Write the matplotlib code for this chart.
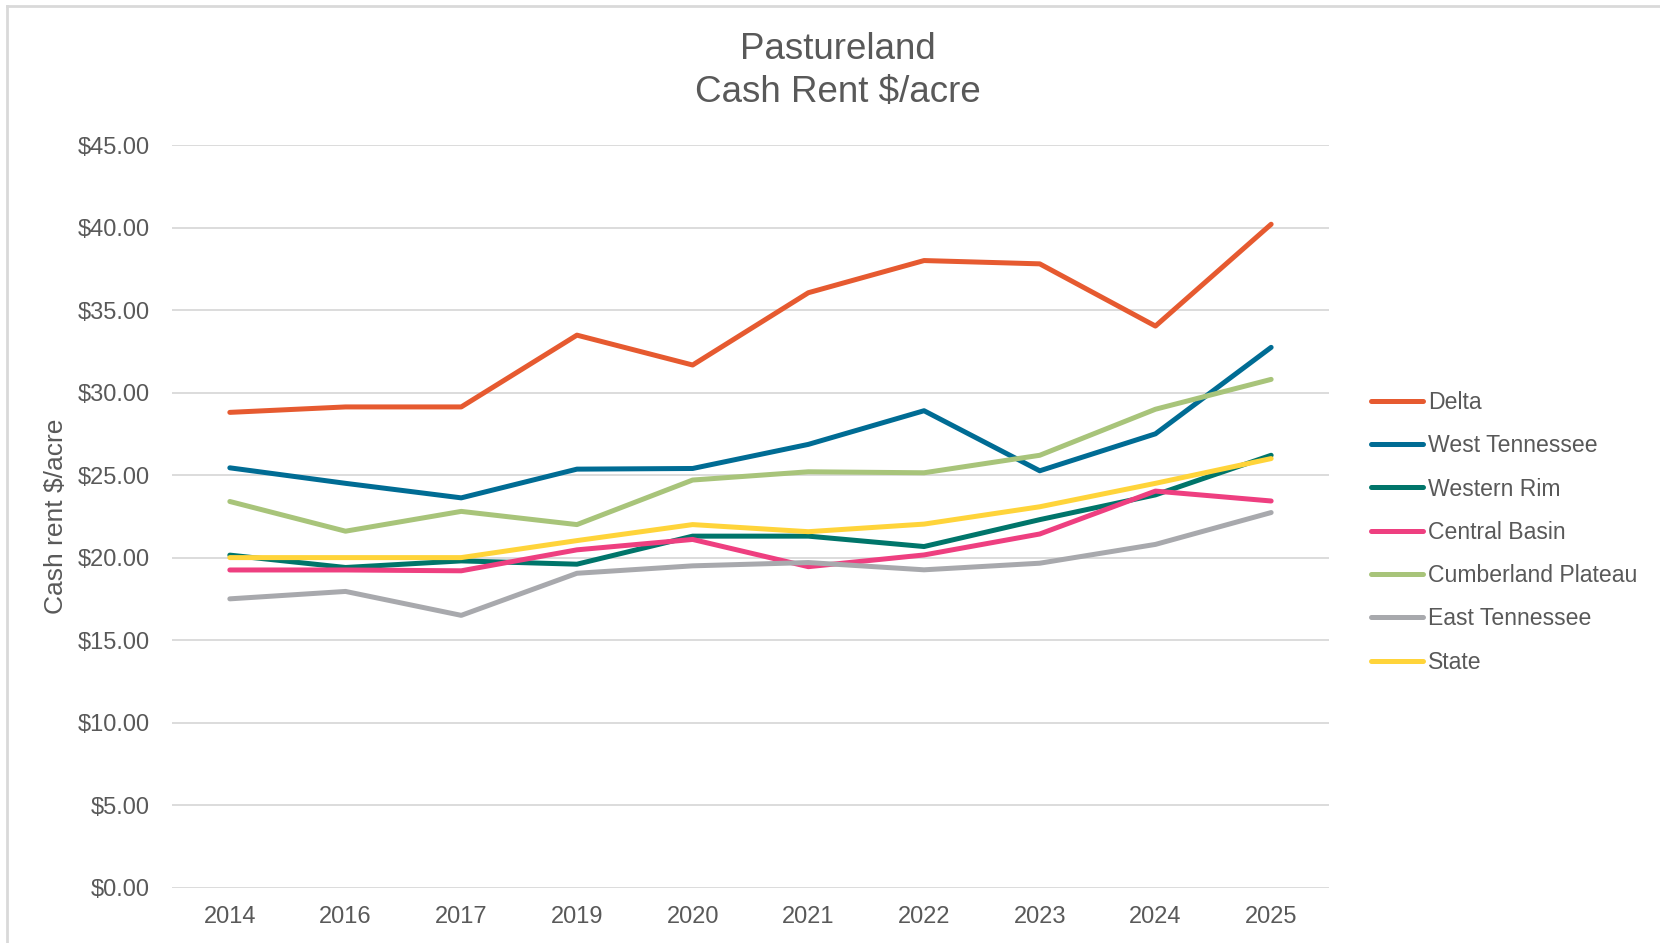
import matplotlib
matplotlib.use("Agg")
import matplotlib.pyplot as plt
from matplotlib.lines import Line2D
from matplotlib.ticker import FuncFormatter

plt.rcParams['font.family'] = ['Liberation Sans', 'DejaVu Sans']

# data
years = ["2014", "2016", "2017", "2019", "2020", "2021", "2022", "2023", "2024", "2025"]

delta = [28.80, 29.13, 29.13, 33.48, 31.67, 36.05, 38.00, 37.80, 34.03, 40.20]
west_tn = [25.44, 24.50, 23.62, 25.36, 25.40, 26.86, 28.90, 25.26, 27.50, 32.74]
western_rim = [20.15, 19.40, 19.80, 19.60, 21.30, 21.30, 20.67, 22.30, 23.80, 26.20]
central_basin = [19.25, 19.25, 19.20, 20.47, 21.10, 19.45, 20.16, 21.43, 24.03, 23.43]
cumberland = [23.40, 21.60, 22.80, 22.00, 24.70, 25.20, 25.14, 26.20, 28.99, 30.80]
east_tn = [17.50, 17.95, 16.50, 19.05, 19.50, 19.70, 19.26, 19.66, 20.80, 22.73]
state = [20.00, 20.00, 20.00, 21.03, 22.00, 21.57, 22.03, 23.08, 24.50, 26.00]

series = [
    ("Delta", delta, "#E65A30"),
    ("West Tennessee", west_tn, "#006C94"),
    ("Western Rim", western_rim, "#00756A"),
    ("Central Basin", central_basin, "#EE3F80"),
    ("Cumberland Plateau", cumberland, "#A8C47A"),
    ("East Tennessee", east_tn, "#A8A9AD"),
    ("State", state, "#FFD43A"),
]

txt = "#595959"
lw = 3.6

fig = plt.figure(figsize=(16.6, 9.43), dpi=100)
ax = fig.add_axes([0.1036, 0.0587, 0.6970, 0.7875])

x = list(range(len(years)))
for name, vals, col in series:
    ax.plot(x, vals, color=col, lw=lw, solid_capstyle='round', label=name)

ax.set_xlim(-0.5, len(years) - 0.5)
ax.set_ylim(0, 45)
ax.set_yticks(range(0, 46, 5))
ax.yaxis.set_major_formatter(FuncFormatter(lambda v, p: f"${v:.2f}"))
ax.set_xticks(x)
ax.set_xticklabels(years)
ax.grid(axis='y', color='#D9D9D9', lw=1.3)
ax.set_axisbelow(True)
for s in ax.spines.values():
    s.set_visible(False)
ax.tick_params(length=0, labelsize=17, colors=txt)
ax.tick_params(axis='y', pad=16)
ax.tick_params(axis='x', pad=13)

fig.text(0.034, 0.452, "Cash rent $/acre", rotation=90, ha='center', va='center',
         fontsize=19, color=txt, family=['Liberation Sans Narrow', 'Liberation Sans'])

fig.text(0.505, 0.947, "Pastureland", ha='center', va='center', fontsize=26.5, color=txt)
fig.text(0.505, 0.902, "Cash Rent $/acre", ha='center', va='center', fontsize=26.5, color=txt)

handles = [Line2D([0], [0], color=c, lw=lw, solid_capstyle='round') for _, _, c in series]
leg = fig.legend(handles, [n for n, _, _ in series], loc='center left',
                 bbox_to_anchor=(0.826, 0.4355), frameon=False, fontsize=16.6,
                 handlelength=2.25, handletextpad=0.2, labelspacing=0.88,
                 labelcolor=txt, borderaxespad=0, borderpad=0)

# chart-area border (left and top edges visible)
fig.add_artist(Line2D([0.0042, 0.0042], [0, 0.9936], color='#D9D9D9', lw=2, transform=fig.transFigure))
fig.add_artist(Line2D([0.0042, 1.0], [0.9936, 0.9936], color='#D9D9D9', lw=2, transform=fig.transFigure))

fig.savefig("out.png", dpi=100)
